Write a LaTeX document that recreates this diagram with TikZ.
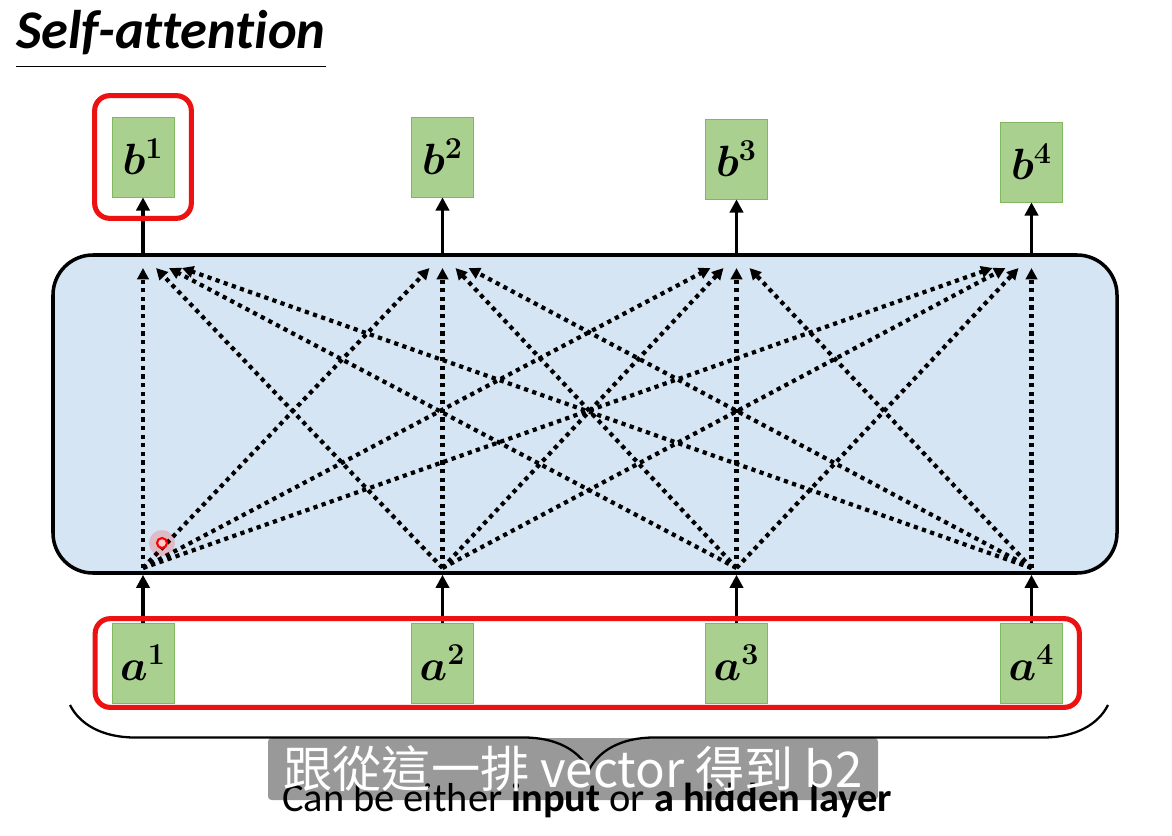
\documentclass[tikz,border=0pt]{standalone}
\usepackage{fontspec}
\setmainfont{Carlito}[Ligatures=NoCommon]
\newfontfamily\cjkfont{Noto Sans CJK TC}
\usetikzlibrary{arrows.meta,fit,decorations.pathreplacing}

\definecolor{vecgreen}{RGB}{169,208,142}
\definecolor{vecedge}{RGB}{128,184,98}
\definecolor{attnblue}{RGB}{214,229,243}
\definecolor{markred}{RGB}{236,18,18}

\begin{document}
\begin{tikzpicture}[
	vec/.style={rectangle, draw=vecedge, fill=vecgreen, minimum width=1.24cm, minimum height=1.6cm, font=\fontsize{25}{29}\selectfont\boldmath},
	feed/.style={-{Triangle[length=7.5pt,width=7.5pt]}, line width=2pt},
	attn/.style={-{Triangle[length=6.5pt,width=6.5pt]}, line width=2.4pt, dash pattern=on 2.4pt off 2.5pt},
	focus/.style={rectangle, draw=markred, line width=2.9pt, rounded corners=0.3cm}]

\useasboundingbox (0,0) rectangle (23.44,16.7);

\node (title) at (3.42, 16.04) [inner sep=0pt, font=\fontsize{31}{36}\selectfont\bfseries\itshape] {Self-attention};
\draw[line width=0.8pt] ([yshift=-0.22cm]title.south west) -- ([yshift=-0.22cm]title.south east);

\node (layer) at (11.7, 8.42) [rectangle, draw=black, line width=2pt, fill=attnblue, rounded corners=0.8cm, minimum width=21.28cm, minimum height=6.36cm] {};

\foreach \i/\x/\by in {1/2.86/13.56, 2/8.85/13.56, 3/14.73/13.52, 4/20.63/13.46} {
	\node (b\i) at (\x, \by) [vec] {$b^{\i}$};
	\node (a\i) at (\x, 3.44) [vec] {$a^{\i}$};
	\coordinate (bot\i) at (\x, 5.34);
	\coordinate (top\i) at (\x, 11.34);
	\draw[feed] (layer.north -| b\i) -- (b\i);
	\draw[feed] (a\i) -- (layer.south -| a\i);
}

\foreach \i in {1,...,4}
	\foreach \j in {1,...,4} {
		\pgfmathsetmacro\off{0.26*(\i-\j)}
		\draw[attn] (bot\i) -- ([xshift=\off cm]top\j);
	}

%\fill[red] (3.24, 5.84) circle (0.1);
\fill[red, opacity=0.18] (3.24, 5.84) circle (0.26);
\node (pointer) at (3.24, 5.84) [circle, draw=red, line width=1.2pt, fill=red!20, inner sep=0pt, minimum size=0.2cm] {};

\node (pick) [focus, inner xsep=0.34cm, inner ysep=0.42cm, fit={(b1)}] {};
\node (row) [focus, inner xsep=0.33cm, inner ysep=0.08cm, fit={(a1) (a4)}] {};

\draw[decorate, decoration={brace, mirror, amplitude=1.3cm}, line width=1.3pt] (1.4, 2.6) -- (22.16, 2.6);

\node (caption) at (11.74, 0.48) [anchor=base, font=\fontsize{23}{26}\selectfont] {Can be either \textbf{input} or \textbf{a hidden layer}};
\node (subtitle) at (11.46, 1.32) [fill=black, fill opacity=0.4, text opacity=1, text=white, rounded corners=2pt, minimum width=12.2cm, minimum height=1.24cm, font=\cjkfont\fontsize{28}{32}\selectfont] {跟從這一排 vector 得到 b2};

\end{tikzpicture}
\end{document}
